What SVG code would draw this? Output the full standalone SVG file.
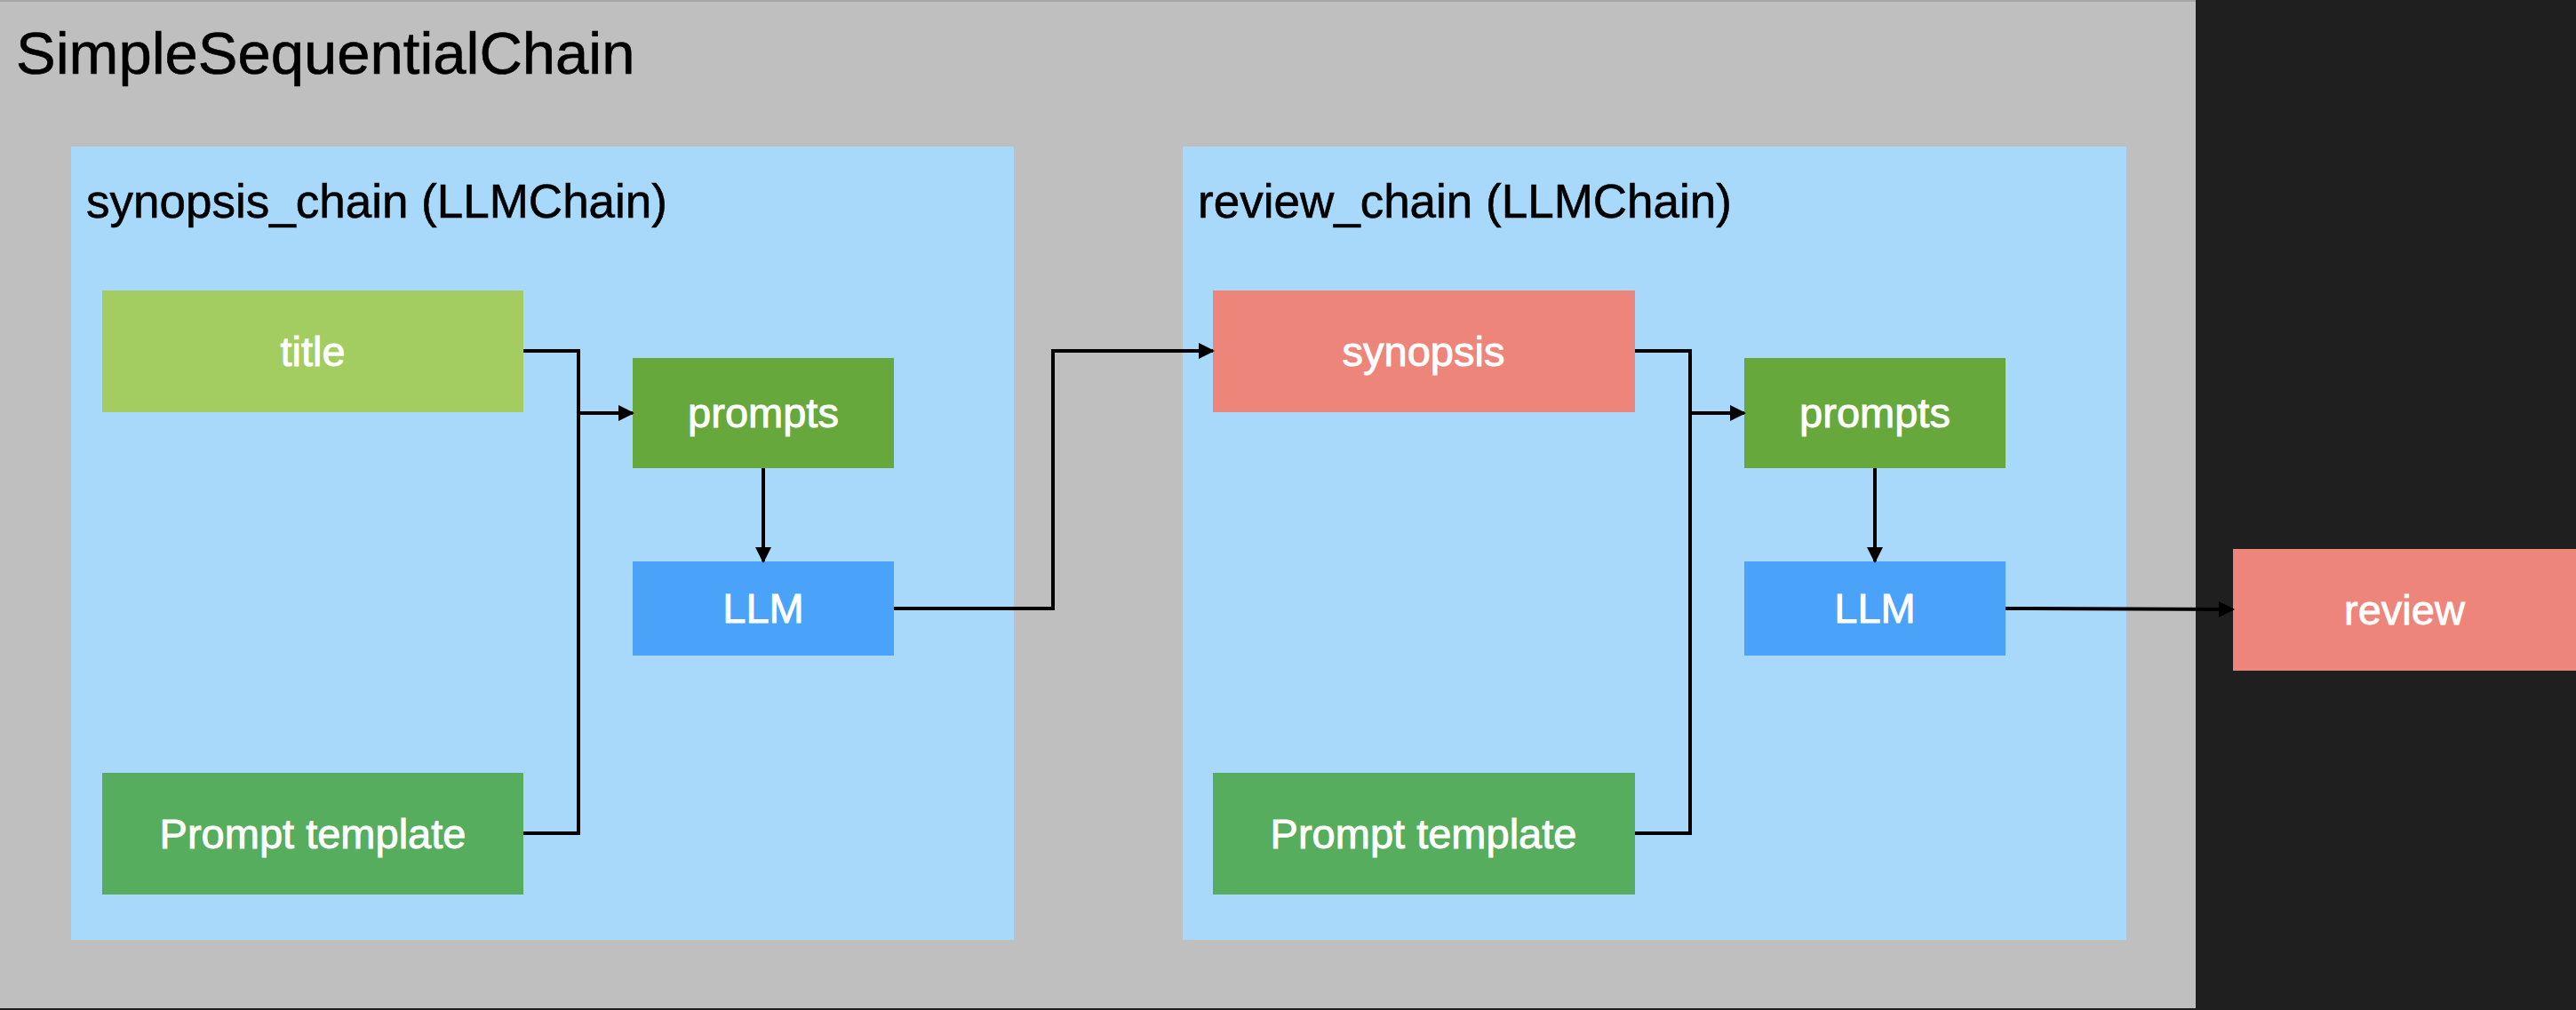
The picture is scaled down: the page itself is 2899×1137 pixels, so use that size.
<svg xmlns="http://www.w3.org/2000/svg" width="2899" height="1137" viewBox="0 0 2899 1137">
<style>
.t{font-family:"Liberation Sans",Arial,sans-serif;}
.lbl{font-family:"Liberation Sans",Arial,sans-serif;font-size:47px;fill:#ffffff;stroke:#ffffff;stroke-width:0.9px;text-anchor:middle;}
.hdr{font-family:"Liberation Sans",Arial,sans-serif;font-size:53px;fill:#000000;stroke:#000000;stroke-width:0.6px;}
.cont{fill:#a8d8fa;}
.edge{fill:none;stroke:#000000;stroke-width:4;}
</style>
<defs>
<marker id="arr" markerUnits="userSpaceOnUse" markerWidth="18" markerHeight="18" refX="16" refY="9" orient="auto">
<path d="M0,0 L18,9 L0,18 Z" fill="#000000"/>
</marker>
</defs>
<rect x="0" y="0" width="2899" height="1137" fill="#1f1f1f"/>
<rect x="0" y="0" width="2471" height="1135" fill="#bfbfbf"/>
<rect x="0" y="0" width="2471" height="2" fill="#a6a6a6"/>
<text class="t" x="18" y="83" font-size="67" fill="#000000" stroke="#000000" stroke-width="0.6">SimpleSequentialChain</text>

<g id="synopsis_chain">
<rect class="cont" x="80" y="165" width="1061" height="893"/>
<text class="hdr" x="97" y="245">synopsis_chain (LLMChain)</text>
</g>
<g id="review_chain">
<rect class="cont" x="1331" y="165" width="1062" height="893"/>
<text class="hdr" x="1348" y="245">review_chain (LLMChain)</text>
</g>

<g id="title">
<rect x="115" y="327" width="474" height="137" fill="#a3cd61"/>
<text class="lbl" x="352" y="412">title</text>
</g>
<g id="prompts1">
<rect x="712" y="403" width="294" height="124" fill="#66a83b"/>
<text class="lbl" x="859" y="481">prompts</text>
</g>
<g id="llm1">
<rect x="712" y="632" width="294" height="106" fill="#4aa2f9"/>
<text class="lbl" x="859" y="701">LLM</text>
</g>
<g id="template1">
<rect x="115" y="870" width="474" height="137" fill="#55ad5d"/>
<text class="lbl" x="352" y="955">Prompt template</text>
</g>

<g id="synopsis">
<rect x="1365" y="327" width="475" height="137" fill="#ed857b"/>
<text class="lbl" x="1602" y="412">synopsis</text>
</g>
<g id="prompts2">
<rect x="1963" y="403" width="294" height="124" fill="#66a83b"/>
<text class="lbl" x="2110" y="481">prompts</text>
</g>
<g id="llm2">
<rect x="1963" y="632" width="294" height="106" fill="#4aa2f9"/>
<text class="lbl" x="2110" y="701">LLM</text>
</g>
<g id="template2">
<rect x="1365" y="870" width="475" height="137" fill="#55ad5d"/>
<text class="lbl" x="1602" y="955">Prompt template</text>
</g>

<g id="review">
<rect x="2513" y="618" width="386" height="137" fill="#ed857b"/>
<text class="lbl" x="2706" y="703">review</text>
</g>

<g id="connectors">
<polyline class="edge" points="589,395 651,395 651,938 589,938"/>
<line class="edge" x1="651" y1="465" x2="712" y2="465" marker-end="url(#arr)"/>
<line class="edge" x1="859" y1="527" x2="859" y2="632" marker-end="url(#arr)"/>
<polyline class="edge" points="1006,685 1185,685 1185,395 1365,395" marker-end="url(#arr)"/>
<polyline class="edge" points="1840,395 1902,395 1902,938 1840,938"/>
<line class="edge" x1="1902" y1="465" x2="1963" y2="465" marker-end="url(#arr)"/>
<line class="edge" x1="2110" y1="527" x2="2110" y2="632" marker-end="url(#arr)"/>
<line class="edge" x1="2257" y1="685" x2="2513" y2="686" marker-end="url(#arr)"/>
</g>
</svg>
